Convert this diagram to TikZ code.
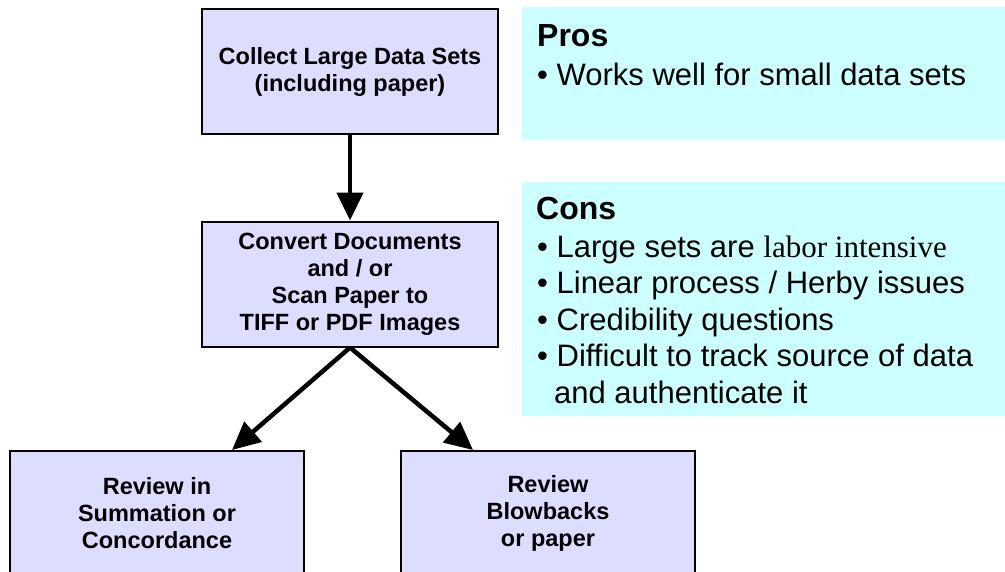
\documentclass[tikz,border=0pt]{standalone}
\usepackage{fontspec}
\setmainfont{Liberation Sans}
\newfontfamily\serifface{Liberation Serif}
\usetikzlibrary{arrows.meta}
\definecolor{boxfill}{HTML}{DDDDFF}
\definecolor{panelfill}{HTML}{CCFFFF}
\begin{document}
\begin{tikzpicture}[x=1pt,y=-1pt,
  flowbox/.style={draw=black, line width=2pt, fill=boxfill, minimum width=296pt, minimum height=125pt, inner sep=0pt, align=center, font=\bfseries\fontsize{23.5}{27}\selectfont},
  panel/.style={fill=panelfill, draw=none, inner sep=0pt, anchor=north west},
  flowarrow/.style={line width=4.5pt, -{Triangle[length=28pt,width=26pt]}},
  head/.style={anchor=base west, inner sep=0pt, font=\bfseries\fontsize{32}{38}\selectfont},
  item/.style={anchor=base west, inner sep=0pt, font=\fontsize{31}{37}\selectfont}]
\useasboundingbox (0,0) rectangle (1005,571);
\clip (0,0) rectangle (1005,571);
% panels
\node[panel, minimum width=483pt, minimum height=133pt] (pros) at (522,7) {};
\node[panel, minimum width=483pt, minimum height=234pt] (cons) at (522,182) {};
\node[head] (prosh) at (537,46) {Pros};
\node[item] (pros1) at (537,85) {\textbullet\ Works well for small data sets};
\node[head] (consh) at (536,219) {Cons};
\node[item] (cons1) at (537,257) {\textbullet\ Large sets are {\serifface labor intensive}};
\node[item] (cons2) at (537,293.5) {\textbullet\ Linear process / Herby issues};
\node[item] (cons3) at (537,330) {\textbullet\ Credibility questions};
\node[item] (cons4) at (537,366.5) {\textbullet\ Difficult to track source of data};
\node[item] (cons5) at (554,403) {and authenticate it};
% flow boxes
\node[flowbox] (b1) at (350,71.5) {Collect Large Data Sets\\(including paper)};
\node[flowbox] (b2) at (350,284) {Convert Documents\\and / or\\Scan Paper to\\TIFF or PDF Images};
\node[flowbox, minimum width=294pt] (b3) at (157,513.5) {Review in\\Summation or\\Concordance};
\node[flowbox, minimum width=294pt] (b4) at (548,513.5) {Review\\Blowbacks\\or paper};
% connectors
\draw[flowarrow] (b1.south) -- (b2.north);
\draw[flowarrow] (b2.south) -- ([xshift=75pt]b3.north);
\draw[flowarrow] (b2.south) -- ([xshift=-75pt]b4.north);
\end{tikzpicture}
\end{document}
